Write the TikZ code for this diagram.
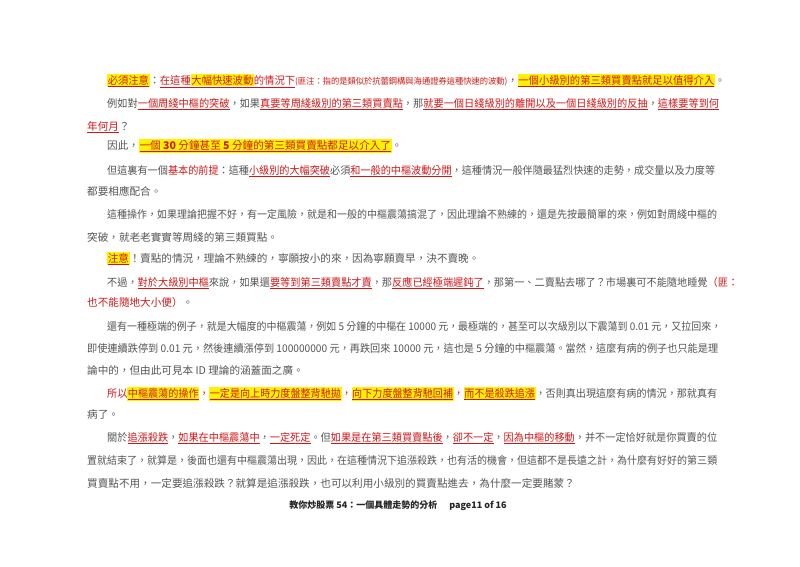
\documentclass[tikz,border=0pt]{standalone}
\usepackage{fontspec}
\usepackage{graphicx}
\setmainfont{Noto Sans CJK TC}
\definecolor{txt}{HTML}{555555}
\definecolor{red1}{HTML}{D01818}
\definecolor{hly}{HTML}{FFF200}
\newcommand{\R}[1]{\textcolor{red1}{#1}}
\newcommand{\HL}[1]{{\setlength{\fboxsep}{0.6pt}\colorbox{hly}{#1}}}
\newcommand{\U}[1]{\underline{#1}}
\newcommand{\FL}[2]{\resizebox{#1pt}{\height}{#2}}
\tikzset{ln/.style={anchor=base west,inner sep=0pt,text=txt,font=\fontsize{10.6}{13}\selectfont}}
\begin{document}
\begin{tikzpicture}[x=1pt,y=-1pt]
\useasboundingbox[fill=white] (0,0) rectangle (800,566);
\node[ln] (l1) at (107,84) {\FL{618}{\R{\HL{\U{必須注意}}}：\R{\U{在這種\HL{大幅快速波動}的情況下}}{\fontsize{8.5}{10}\selectfont\R{(匪注：指的是類似於抗蕾鋼構與海通證券這種快速的波動)}}\R{，}\R{\HL{\U{一個小級別的第三類買賣點就足以值得介入}}}。}};
\node[ln] (l2) at (107,107) {\FL{612}{例如對\R{\U{一個周綫中樞的突破}}，如果\R{\U{真要等周綫級別的第三類買賣點}}，那\R{\U{就要一個日綫級別的離開以及一個日綫級別的反抽}}，\R{\U{這樣要等到何}}}};
\node[ln] (l3) at (87,130) {\R{\U{年何月}}？};
\node[ln] (l4) at (107,149) {因此，\R{\HL{\U{一個 \textbf{30} 分鐘甚至 \textbf{5} 分鐘的第三類買賣點都足以介入了}}}。};
\node[ln] (l5) at (107,174) {\FL{608}{但這裏有一個\R{基本的前提}：這種\R{\U{小級別的大幅突破}}必須\R{\U{和一般的中樞波動分開}}，這種情況一般伴隨最猛烈快速的走勢，成交量以及力度等}};
\node[ln] (l6) at (87,195) {都要相應配合。};
\node[ln] (l7) at (107,218) {\FL{610}{這種操作，如果理論把握不好，有一定風險，就是和一般的中樞震蕩搞混了，因此理論不熟練的，還是先按最簡單的來，例如對周綫中樞的}};
\node[ln] (l8) at (87,241) {突破，就老老實實等周綫的第三類買點。};
\node[ln] (l9) at (107,262) {\R{\HL{\U{注意}}}！賣點的情況，理論不熟練的，寧願按小的來，因為寧願賣早，決不賣晚。};
\node[ln] (l10) at (107,286) {\FL{631}{不過，\R{\U{對於大級別中樞}}來說，如果還\R{\U{要等到第三類賣點才賣}}，那\R{\U{反應已經極端遲鈍了}}，那第一、二賣點去哪了？市場裏可不能隨地睡覺\R{（匪：}}};
\node[ln] (l11) at (87,306) {\R{也不能隨地大小便）}。};
\node[ln] (l12) at (107,330) {\FL{614}{還有一種極端的例子，就是大幅度的中樞震蕩，例如 5 分鐘的中樞在 10000 元，最極端的，甚至可以次級別以下震蕩到 0.01 元，又拉回來，}};
\node[ln] (l13) at (87,352) {\FL{631}{即使連續跌停到 0.01 元，然後連續漲停到 100000000 元，再跌回來 10000 元，這也是 5 分鐘的中樞震蕩。當然，這麼有病的例子也只能是理}};
\node[ln] (l14) at (87,374) {論中的，但由此可見本 ID 理論的涵蓋面之廣。};
\node[ln] (l15) at (107,397) {\FL{610}{\R{所以\HL{\U{中樞震蕩的操作}}，\HL{\U{一定是向上時力度盤整背馳拋}}，\HL{\U{向下力度盤整背馳回補}}，\HL{\U{而不是殺跌追漲}}}，否則真出現這麼有病的情況，那就真有}};
\node[ln] (l16) at (87,418) {病了。};
\node[ln] (l17) at (107,441) {\FL{610}{關於\R{\U{追漲殺跌}}，\R{\U{如果在中樞震蕩中}}，\R{\U{一定死定}}。但\R{\U{如果是在第三類買賣點後}}，\R{\U{卻不一定}}，\R{\U{因為中樞的移動}}，并不一定恰好就是你買賣的位}};
\node[ln] (l18) at (87,464) {\FL{630}{置就結束了，就算是，後面也還有中樞震蕩出現，因此，在這種情況下追漲殺跌，也有活的機會，但這都不是長遠之計，為什麼有好好的第三類}};
\node[ln] (l19) at (87,487) {買賣點不用，一定要追漲殺跌？就算是追漲殺跌，也可以利用小級別的買賣點進去，為什麼一定要賭蒙？};
\node[anchor=base,inner sep=0pt,font=\fontsize{9}{11}\selectfont\bfseries,text=black!85] (ft) at (398,508) {教你炒股票 54：一個具體走勢的分析\hspace{12pt}page11 of 16};
\end{tikzpicture}
\end{document}
